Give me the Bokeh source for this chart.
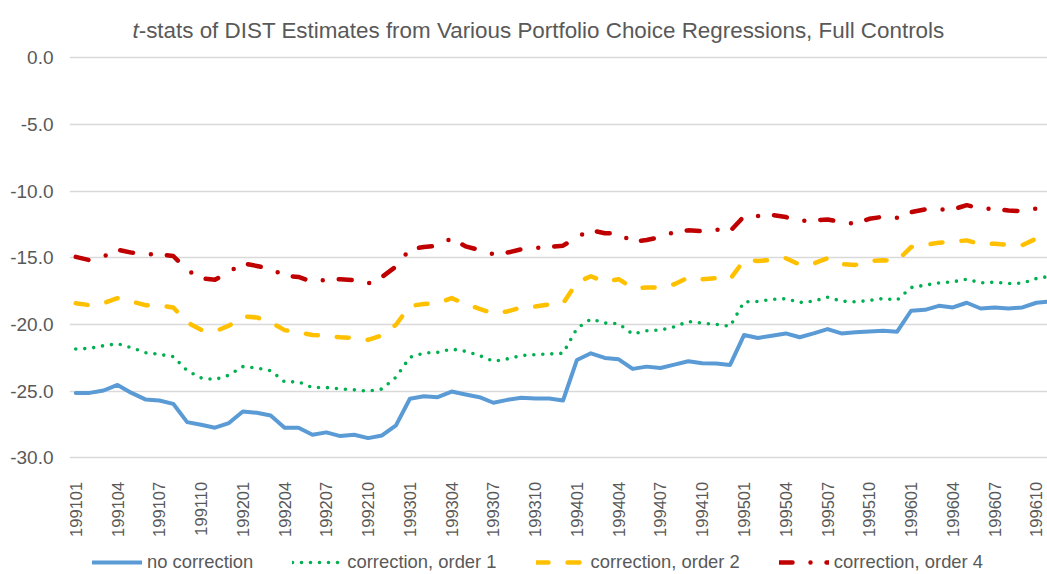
from bokeh.plotting import figure
from bokeh.models import (Range1d, FixedTicker, NumeralTickFormatter, Legend, LegendItem,
                          Label, ColumnDataSource)
from bokeh.embed import file_html
from bokeh.resources import INLINE
from math import pi

# ---------------- data ----------------
months = [f"{y}{m:02d}" for y in range(1991, 1997) for m in range(1, 13)][:71]

no_correction = [-25.13, -25.13, -24.95, -24.53, -25.13, -25.62, -25.70, -25.95, -27.32, -27.52,
                 -27.74, -27.39, -26.52, -26.62, -26.82, -27.74, -27.74, -28.27, -28.09, -28.37,
                 -28.27, -28.52, -28.32, -27.57, -25.57, -25.38, -25.45, -25.03, -25.25, -25.45,
                 -25.87, -25.65, -25.50, -25.55, -25.55, -25.70, -22.66, -22.16, -22.51, -22.61,
                 -23.33, -23.16, -23.26, -23.01, -22.76, -22.91, -22.93, -23.03, -20.79, -21.01,
                 -20.84, -20.67, -20.96, -20.67, -20.34, -20.67, -20.59, -20.52, -20.47, -20.54,
                 -18.97, -18.90, -18.60, -18.72, -18.37, -18.80, -18.72, -18.80, -18.72, -18.37,
                 -18.27]

order1 = [-21.84, -21.79, -21.59, -21.44, -21.74, -22.11, -22.24, -22.41, -23.46, -24.00,
          -24.13, -23.80, -23.16, -23.26, -23.46, -24.30, -24.30, -24.73, -24.73, -24.83,
          -24.90, -25.00, -24.84, -23.95, -22.46, -22.14, -22.09, -21.84, -22.01, -22.33,
          -22.76, -22.58, -22.33, -22.26, -22.21, -22.16, -20.29, -19.59, -19.89, -19.94,
          -20.72, -20.47, -20.42, -20.17, -19.77, -19.90, -19.99, -20.14, -18.30, -18.27,
          -18.12, -18.07, -18.35, -18.25, -17.95, -18.25, -18.30, -18.20, -18.05, -18.17,
          -17.23, -17.05, -16.88, -16.80, -16.60, -16.88, -16.83, -16.93, -16.90, -16.55,
          -16.38]

order2 = [-18.40, -18.55, -18.40, -18.02, -18.27, -18.55, -18.57, -18.72, -19.84, -20.39,
          -20.52, -20.09, -19.39, -19.47, -19.84, -20.42, -20.59, -20.79, -20.84, -20.96,
          -21.01, -21.16, -20.81, -20.02, -18.60, -18.47, -18.40, -18.02, -18.47, -18.82,
          -19.17, -19.02, -18.72, -18.65, -18.50, -18.42, -16.85, -16.38, -16.80, -16.60,
          -17.25, -17.23, -17.23, -16.98, -16.48, -16.60, -16.53, -16.60, -15.18, -15.23,
          -15.16, -15.03, -15.51, -15.43, -15.03, -15.48, -15.53, -15.23, -15.18, -15.23,
          -14.19, -14.04, -13.86, -13.79, -13.69, -13.99, -13.94, -14.04, -14.04, -13.56,
          -13.24]

order4 = [-14.93, -15.18, -14.91, -14.39, -14.61, -14.73, -14.73, -14.86, -15.91, -16.53,
          -16.65, -16.06, -15.41, -15.61, -15.81, -16.35, -16.43, -16.80, -16.63, -16.60,
          -16.68, -16.93, -16.43, -15.65, -14.36, -14.19, -14.09, -13.54, -14.14, -14.41,
          -14.73, -14.61, -14.36, -14.26, -14.19, -14.09, -13.44, -12.92, -13.16, -13.14,
          -13.81, -13.66, -13.44, -13.07, -12.94, -13.00, -12.88, -13.00, -11.89, -11.87,
          -11.79, -11.94, -12.24, -12.19, -12.12, -12.32, -12.44, -12.07, -11.92, -11.99,
          -11.57, -11.37, -11.37, -11.37, -11.05, -11.30, -11.32, -11.45, -11.50, -11.30,
          -11.07]

y_ticks = [0, -5, -10, -15, -20, -25, -30]
series_names = ["no correction", "correction, order 1", "correction, order 2", "correction, order 4"]
title_italic = "t"
title_rest = "-stats of DIST Estimates from Various Portfolio Choice Regressions, Full Controls"

# ---------------- figure ----------------
FONT = "Liberation Sans"
GREY = "#595959"

idx = list(range(len(months)))
src = ColumnDataSource(dict(x=idx, a=no_correction, b=order1, c=order2, d=order4))

# the frame covers the whole canvas height; title, axis labels and legend sit inside it
p = figure(width=1047, height=574, output_backend="svg", toolbar_location=None,
           x_range=Range1d(-0.45, 69.8), y_range=Range1d(-38.75, 4.30),
           min_border_left=69, min_border_right=0, min_border_top=0, min_border_bottom=0)
p.outline_line_color = None
p.background_fill_color = "white"
p.border_fill_color = "white"

# axes
p.yaxis.ticker = FixedTicker(ticks=y_ticks)
p.yaxis.formatter = NumeralTickFormatter(format="0.0")
p.yaxis.major_label_text_font = FONT
p.yaxis.major_label_text_font_size = "19px"
p.yaxis.major_label_text_color = GREY
p.yaxis.axis_line_color = None
p.yaxis.major_tick_line_color = None
p.yaxis.minor_tick_line_color = None
p.yaxis.major_tick_out = 0
p.yaxis.major_tick_in = 0
p.yaxis.major_label_standoff = 16

p.xaxis.fixed_location = y_ticks[-1]
p.xaxis.ticker = FixedTicker(ticks=idx[::3])
p.xaxis.major_label_overrides = {i: months[i] for i in idx}
p.xaxis.major_label_orientation = pi / 2
p.xaxis.major_label_text_font = FONT
p.xaxis.major_label_text_font_size = "16.5px"
p.xaxis.major_label_text_color = GREY
p.xaxis.axis_line_color = None
p.xaxis.major_tick_line_color = None
p.xaxis.minor_tick_line_color = None
p.xaxis.major_label_standoff = 18

p.xgrid.grid_line_color = None
p.ygrid.ticker = FixedTicker(ticks=y_ticks)
p.ygrid.grid_line_color = "#D9D9D9"
p.ygrid.grid_line_width = 1.3

# lines
r1 = p.line("x", "a", source=src, line_color="#5B9BD5", line_width=4,
            line_join="round", line_cap="round")
r2 = p.line("x", "b", source=src, line_color="#00B050", line_width=3.6,
            line_join="round", line_cap="round", line_dash="0 9")
r3 = p.line("x", "c", source=src, line_color="#FFC000", line_width=4.5,
            line_join="round", line_cap="round", line_dash="12 19")
r4 = p.line("x", "d", source=src, line_color="#C00000", line_width=4.5,
            line_join="round", line_cap="round", line_dash="13 18 0 16")

legend = Legend(items=[LegendItem(label=series_names[0], renderers=[r1]),
                       LegendItem(label=series_names[1], renderers=[r2]),
                       LegendItem(label=series_names[2], renderers=[r3]),
                       LegendItem(label=series_names[3], renderers=[r4])],
                orientation="horizontal", location=(23, 1),
                label_text_font=FONT, label_text_font_size="18.4px", label_text_color=GREY,
                glyph_width=50, glyph_height=22, label_standoff=5, spacing=39,
                padding=0, margin=0, border_line_color=None, background_fill_alpha=0)
p.add_layout(legend, "center")

# title (italic "t" + rest)
t1 = Label(x=4.076, y=2.05, text=title_italic,
           text_font=FONT, text_font_size="22.4px", text_font_style="italic",
           text_color=GREY, text_baseline="alphabetic")
t2 = Label(x=4.076, y=2.05, x_offset=6.2, text=title_rest,
           text_font=FONT, text_font_size="22.4px", text_color=GREY,
           text_baseline="alphabetic")
p.add_layout(t1)
p.add_layout(t2)

open("out.html", "w").write(file_html(p, INLINE))
